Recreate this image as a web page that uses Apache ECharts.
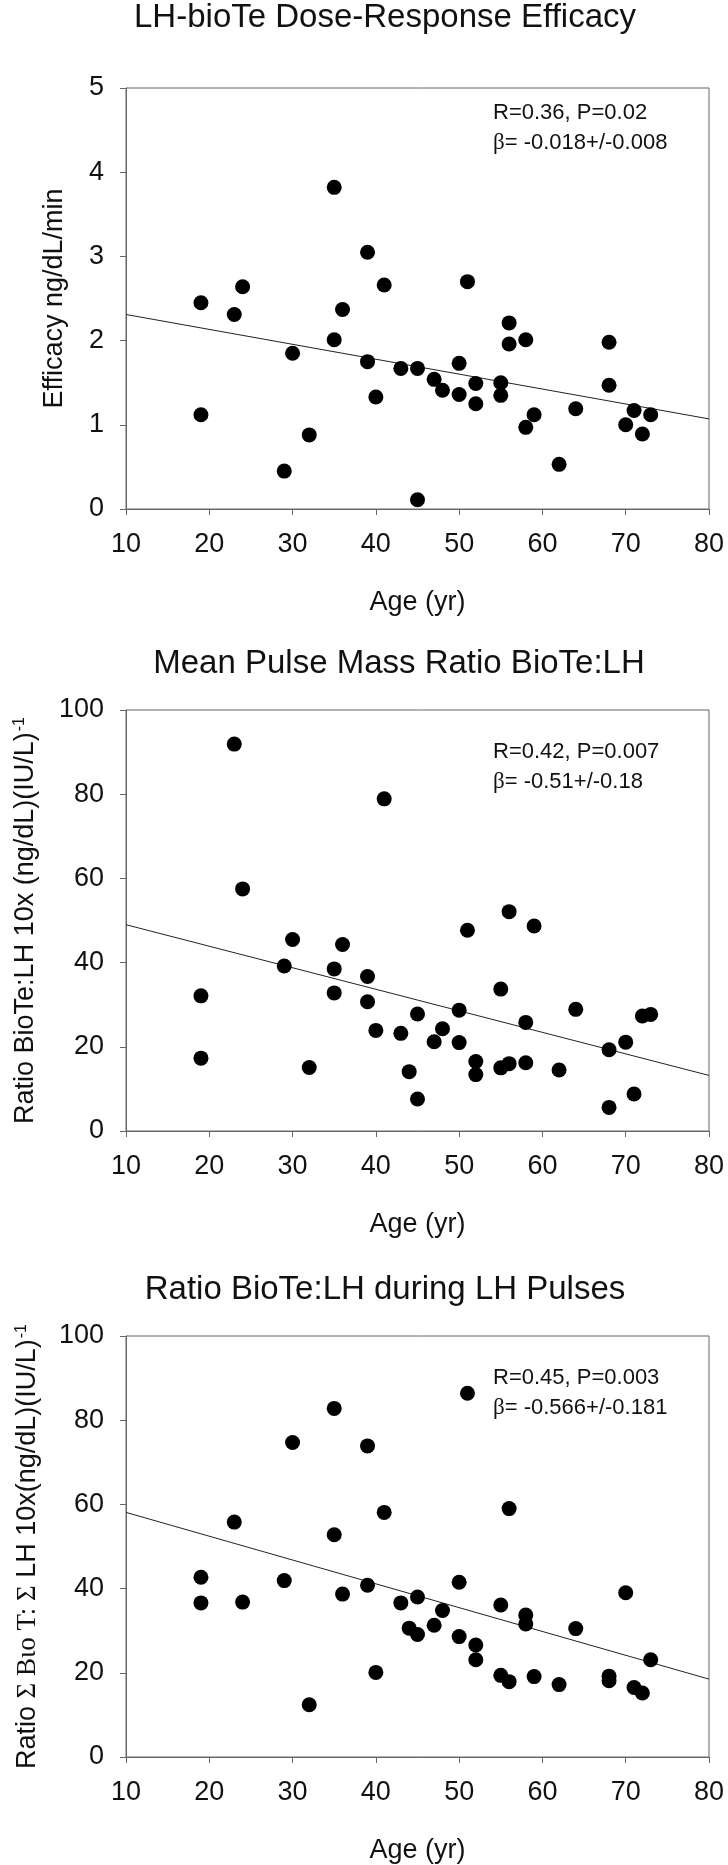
<!DOCTYPE html>
<html>
<head>
<meta charset="utf-8">
<title>BioTe : LH vs age</title>
<script src="https://cdn.jsdelivr.net/npm/echarts@6/dist/echarts.min.js"></script>
<style>
html, body { margin: 0; padding: 0; background: #fff; }
#main { width: 728px; height: 1865px; }
</style>
</head>
<body>
<div id="main"></div>
<script>
// panel 1 : efficacy
var age1 = [19, 19, 23, 24, 29, 30, 32, 35, 35, 36, 39, 39, 40, 41, 43, 45, 45, 47, 48, 50,
            50, 51, 52, 52, 55, 55, 56, 56, 58, 58, 59, 62, 64, 68, 68, 70, 71, 72, 73];
var efficacy = [2.45, 1.12, 2.31, 2.64, 0.45, 1.85, 0.88, 3.82, 2.01, 2.37, 3.05, 1.75, 1.33, 2.66, 1.67, 1.67, 0.11, 1.54, 1.41, 1.73,
                1.36, 2.70, 1.49, 1.25, 1.50, 1.35, 2.21, 1.96, 2.01, 0.97, 1.12, 0.53, 1.19, 1.98, 1.47, 1.00, 1.17, 0.89, 1.12];

// panels 2 and 3 share the same ages
var age2 = [19, 19, 23, 24, 29, 30, 32, 35, 35, 36, 39, 39, 40, 41, 43, 44, 45, 45, 47, 48,
            50, 50, 51, 52, 52, 55, 55, 56, 56, 58, 58, 59, 62, 64, 68, 68, 70, 71, 72, 73];
var massRatio = [32.1, 17.3, 91.9, 57.5, 39.2, 45.5, 15.1, 38.5, 32.8, 44.3, 36.7, 30.7, 23.9, 78.9, 23.2, 14.1, 27.8, 7.6, 21.2, 24.3,
                 28.7, 21.0, 47.7, 16.5, 13.4, 33.7, 15.0, 52.1, 16.0, 25.8, 16.2, 48.7, 14.5, 28.9, 19.3, 5.6, 21.1, 8.8, 27.3, 27.7];
var pulseRatio = [42.7, 36.6, 55.8, 36.8, 41.9, 74.7, 12.4, 82.8, 52.8, 38.7, 73.9, 40.8, 20.1, 58.1, 36.6, 30.6, 38.0, 29.1, 31.3, 34.8,
                  41.5, 28.6, 86.4, 26.6, 23.1, 36.1, 19.4, 59.0, 17.9, 33.7, 31.6, 19.1, 17.2, 30.5, 19.2, 18.1, 39.0, 16.5, 15.2, 23.1];

// regression lines, read at age 10 and 80
var fitAge = [10, 80];
var fit1 = [2.31, 1.07];
var fit2 = [49.0, 13.2];
var fit3 = [58.1, 18.5];

var titles = ['LH-bioTe Dose-Response Efficacy', 'Mean Pulse Mass Ratio BioTe:LH', 'Ratio BioTe:LH during LH Pulses'];
var stats = [['R=0.36, P=0.02', '-0.018+/-0.008'], ['R=0.42, P=0.007', '-0.51+/-0.18'], ['R=0.45, P=0.003', '-0.566+/-0.181']];

var fam = '"Liberation Sans", Arial, sans-serif';
var serif = '"Liberation Serif", "DejaVu Serif", serif';
var axisCol = '#666';
var txtCol = '#111';

function pairs(xs, ys) {
	var out = [];
	for (var i = 0; i < xs.length; i++) out.push([xs[i], ys[i]]);
	return out;
}

var gridTops = [88, 710, 1336];
var titleTops = [1, 647, 1273];
var titleLefts = [385, 399, 385];

var grids = [], xAxes = [], yAxes = [], titleList = [], graphics = [];
for (var i = 0; i < 3; i++) {
	grids.push({
		left: 126, width: 583, top: gridTops[i], height: 421,
		show: true, borderColor: axisCol, borderWidth: 1,
		outerBoundsMode: 'none'
	});
	xAxes.push({
		gridIndex: i, type: 'value', min: 10, max: 80, interval: 10,
		name: 'Age (yr)', nameLocation: 'middle', nameGap: 80,
		nameTextStyle: { fontSize: 27, color: txtCol, fontFamily: fam },
		axisLine: { lineStyle: { color: axisCol, width: 1 } },
		axisTick: { length: 6, lineStyle: { color: axisCol } },
		axisLabel: { fontSize: 27, color: txtCol, margin: 22, fontFamily: fam },
		splitLine: { show: false }
	});
	titleList.push({
		text: titles[i], left: titleLefts[i], top: titleTops[i], textAlign: 'center', padding: 0,
		textStyle: { fontSize: 33, fontWeight: 'normal', color: txtCol, fontFamily: fam }
	});
	graphics.push({
		type: 'text', left: 493, top: gridTops[i] + 10 + (i == 0 ? 0 : 17),
		style: {
			text: stats[i][0] + '\n{g|\u03b2}= ' + stats[i][1],
			fontSize: 22, fontFamily: fam, fill: txtCol, lineHeight: 30,
			rich: { g: { fontSize: 23, fontFamily: serif, fill: txtCol, lineHeight: 30 } }
		}
	});
}

var supRich = {
	t: { fontSize: 27, fontFamily: fam, color: txtCol },
	s: { fontSize: 27, fontFamily: serif, color: txtCol },
	sup: { fontSize: 16, fontFamily: fam, color: txtCol, verticalAlign: 'top', padding: [0, 0, 12, 1] }
};
var yNames = [
	'Efficacy ng/dL/min',
	'{t|Ratio BioTe:LH 10x (ng/dL)(IU/L)}{sup|-1}',
	'{t|Ratio }{s|\u03a3 B\u03b9\u03bf T: \u03a3}{t| LH 10x(ng/dL)(IU/L)}{sup|-1}'
];
var yMax = [5, 100, 100];
var yStep = [1, 20, 20];
var yGaps = [58, 86, 84];
for (var j = 0; j < 3; j++) {
	yAxes.push({
		gridIndex: j, type: 'value', min: 0, max: yMax[j], interval: yStep[j],
		name: yNames[j], nameLocation: 'middle', nameGap: yGaps[j], nameRotate: 90,
		nameTextStyle: { fontSize: 27, color: txtCol, fontFamily: fam, rich: supRich },
		axisLine: { show: true, lineStyle: { color: axisCol, width: 1 } },
		axisTick: { show: true, length: 6, lineStyle: { color: axisCol } },
		axisLabel: { fontSize: 27, color: txtCol, margin: 22, fontFamily: fam },
		splitLine: { show: false }
	});
}

var points = [pairs(age1, efficacy), pairs(age2, massRatio), pairs(age2, pulseRatio)];
var fits = [pairs(fitAge, fit1), pairs(fitAge, fit2), pairs(fitAge, fit3)];
var series = [];
for (var k = 0; k < 3; k++) {
	series.push({
		type: 'line', xAxisIndex: k, yAxisIndex: k, data: fits[k],
		symbol: 'none', silent: true, z: 1,
		lineStyle: { color: '#222', width: 1 }
	});
	series.push({
		type: 'scatter', xAxisIndex: k, yAxisIndex: k, data: points[k],
		symbol: 'circle', symbolSize: 15, z: 2,
		itemStyle: { color: '#000', opacity: 1 }
	});
}

var myChart = echarts.init(document.getElementById('main'), null, { renderer: 'canvas' });
myChart.setOption({
	backgroundColor: '#fff',
	animation: false,
	title: titleList,
	grid: grids,
	xAxis: xAxes,
	yAxis: yAxes,
	series: series,
	graphic: graphics
});
</script>
</body>
</html>
